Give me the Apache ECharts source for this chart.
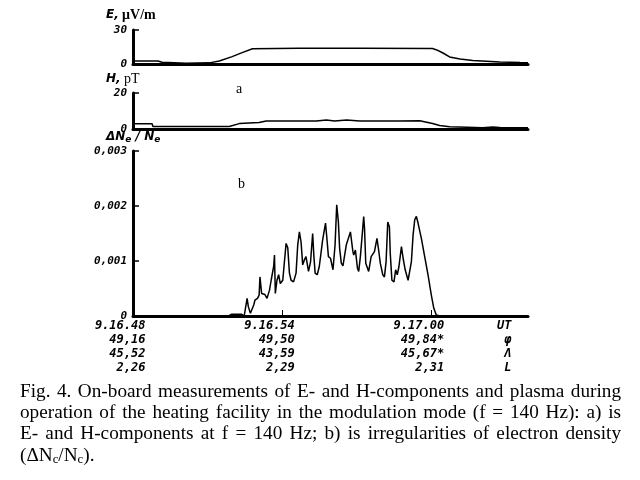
<!DOCTYPE html>
<html><head><meta charset="utf-8">
<script src="https://cdn.jsdelivr.net/npm/echarts@6/dist/echarts.min.js"></script>
<style>html,body{margin:0;padding:0;background:#fff}#c{width:640px;height:480px}</style>
</head><body><div id="c"></div>
<script>
// ---- data (time in seconds after 9.16.48 UT) ----
const eTime  = [0, 60, 70, 128, 184, 208, 239, 263, 288, 400, 550, 722, 732, 747, 763, 788, 819, 884, 933, 952];
const eValue = [2.6, 2.6, 1.5, 0.6, 1.0, 2.6, 6.5, 10, 13.5, 13.8, 13.8, 13.6, 12.4, 9.7, 6.2, 4.4, 3.1, 1.8, 1.3, 1.2];

const hTime  = [0, 46, 48, 232, 256, 304, 321, 442, 466, 486, 515, 546, 643, 691, 722, 739, 763, 805, 843, 867, 884, 952];
const hValue = [2.9, 2.9, 1.4, 1.4, 3.0, 3.6, 4.4, 4.5, 5.0, 4.5, 5.0, 4.5, 4.4, 4.6, 3.0, 2.0, 1.3, 1.0, 0.7, 1.1, 0.8, 0.7];

// dNe/Ne in units of 1e-3
const nTime  = [0,230,237,262,268,270,275,278,283,291,294,298,300,304,306,310,318,323,329,333,339,341,343,347,351,355,361,365,369,373,377,381,387,393,397,401,405,409,413,417,423,428,433,436,439,444,449,457,464,468,471,476,482,487,491,495,498,502,506,514,524,530,532,536,541,544,548,553,556,558,561,564,568,574,578,582,588,592,596,602,606,610,614,618,620,624,629,633,637,641,647,651,656,663,667,671,675,679,683,687,695,703,711,719,725,731,739,952];
const nValue = [0,0,0.03,0.03,0,0.03,0.32,0.17,0.05,0.20,0.29,0.26,0.32,0.38,0.71,0.41,0.39,0.32,0.47,0.65,0.90,1.11,0.41,0.65,0.75,0.59,0.65,0.99,1.32,1.24,0.78,0.65,0.62,0.78,1.29,1.53,1.35,0.93,1.02,1.08,0.81,0.99,1.50,1.08,0.78,0.75,0.90,1.38,1.69,1.35,1.08,1.05,0.84,1.29,2.02,1.71,1.23,0.96,0.91,1.29,1.53,1.17,1.11,1.20,0.87,0.81,1.08,1.53,1.81,1.59,0.96,0.93,0.81,1.08,1.05,1.17,1.41,1.20,0.96,0.75,0.71,0.99,1.71,1.62,1.14,0.65,0.62,0.84,0.75,0.90,1.26,1.05,0.84,0.65,0.62,0.99,1.47,1.75,1.81,1.69,1.41,1.08,0.75,0.38,0.14,0.02,0,0];

const xTicks      = [0, 360, 720];
const utLabels    = ['9.16.48', '9.16.54', '9.17.00'];
const phiLabels   = ['49,16', '49,50', '49,84*'];
const lamLabels   = ['45,52', '43,59', '45,67*'];
const lLabels     = ['2,26', '2,29', '2,31'];
const rowNames    = ['UT', 'φ', 'Λ', 'L'];
const eTickLabels = ['0', '30'];
const hTickLabels = ['0', '20'];
const nTickLabels = ['0', '0,001', '0,002', '0,003'];

const captionLines = [
  'Fig. 4. On-board measurements of E- and H-components and plasma during',
  'operation of the heating facility in the modulation mode (f = 140 Hz): a) is',
  'E- and H-components at f = 140 Hz; b) is irregularities of electron density'
];

// ---- build ----
const zip = (a, b) => a.map((v, i) => [v, b[i]]);
const XMAX = 952;
const LBL_SHIFT = 30;      // labels right-aligned slightly right of tick
const ROWNAME_POS = 912;
const labelVals = xTicks.map(t => t + LBL_SHIFT).concat([ROWNAME_POS]);
const labelTexts = xTicks.map((t, i) => [utLabels[i], phiLabels[i], lamLabels[i], lLabels[i]].join('\n'))
  .concat([rowNames.join('\n')]);

const tickFont = {fontFamily: 'DejaVu Sans Mono', fontStyle: 'italic', fontWeight: 'bold', color: '#000'};
const axisLineStyle = {show: true, lineStyle: {color: '#000', width: 3}};

function xAx(i, bottom) {
  const ax = {
    type: 'value', gridIndex: i, min: 0, max: XMAX,
    axisLine: axisLineStyle, splitLine: {show: false},
    axisTick: {show: false}, axisLabel: {show: false}
  };
  if (bottom) {
    ax.axisTick = {show: true, inside: true, length: 6, customValues: [360, 720], lineStyle: {color: '#000', width: 1}};
    ax.axisLabel = Object.assign({
      show: true, customValues: labelVals, fontSize: 12, lineHeight: 14, margin: 3, align: 'right',
      formatter: v => { let k = 0, d = 1e9; labelVals.forEach((lv, j) => { if (Math.abs(lv - v) < d) { d = Math.abs(lv - v); k = j; } }); return labelTexts[k]; }
    }, tickFont);
  }
  return ax;
}
function yAx(i, max, interval, labels) {
  return {
    type: 'value', gridIndex: i, min: 0, max: max, interval: interval,
    axisLine: axisLineStyle, splitLine: {show: false},
    axisTick: {show: true, inside: true, length: 6, lineStyle: {color: '#000', width: 1.5}},
    axisLabel: Object.assign({fontSize: 11, margin: 6, formatter: v => labels[Math.round(v / interval)]}, tickFont)
  };
}
const lineSeries = (i, t, v) => ({
  type: 'line', xAxisIndex: i, yAxisIndex: i, data: zip(t, v), showSymbol: false,
  lineStyle: {color: '#000', width: 1.5}, animation: false, silent: true
});

const serif = 'Liberation Serif';
const italicB = {fontFamily: 'DejaVu Sans', fontStyle: 'italic', fontWeight: 'bold', fontSize: 12};
const graphics = [
  {type: 'text', left: 106, top: 8, style: {
    text: '{i|E,} {n|μV/m}', rich: {i: italicB, n: {fontFamily: serif, fontWeight: 'bold', fontSize: 14}}, fill: '#000'}},
  {type: 'text', left: 106, top: 72, style: {
    text: '{i|H,} {n|pT}', rich: {i: italicB, n: {fontFamily: serif, fontSize: 14}}, fill: '#000'}},
  {type: 'text', left: 106, top: 131, style: {
    text: '{i|ΔN}{s|e}{i| / N}{s|e}', rich: {i: italicB, s: {fontFamily: 'DejaVu Sans', fontStyle: 'italic', fontWeight: 'bold', fontSize: 9, padding: [5, 0, 0, 0]}}, fill: '#000'}},
  {type: 'text', left: 236, top: 82, style: {text: 'a', font: '14px "Liberation Serif"', fill: '#000'}},
  {type: 'text', left: 238, top: 177, style: {text: 'b', font: '14px "Liberation Serif"', fill: '#000'}}
];

// justified caption, glyphs stretched horizontally to the printed width
const CAP_FONT = '18px "Liberation Serif"';
const CAP_LEFT = 20, CAP_RIGHT = 621, CAP_TOP = 383, CAP_LH = 21, CAP_GAP = 6.5;
const mctx = document.createElement('canvas').getContext('2d');
mctx.font = CAP_FONT;
const w0 = captionLines[0].split(' ').map(w => mctx.measureText(w).width);
const SX = (CAP_RIGHT - CAP_LEFT - (w0.length - 1) * CAP_GAP) / w0.reduce((a, b) => a + b, 0);
captionLines.forEach((s, li) => {
  const words = s.split(' ');
  const widths = words.map(w => mctx.measureText(w).width * SX);
  const total = widths.reduce((a, b) => a + b, 0);
  const gap = (CAP_RIGHT - CAP_LEFT - total) / (words.length - 1);
  let x = CAP_LEFT;
  words.forEach((w, k) => {
    graphics.push({type: 'text', x: x, y: CAP_TOP + li * CAP_LH, scaleX: SX,
      style: {text: w, font: CAP_FONT, fill: '#000', align: 'left', verticalAlign: 'top'}});
    x += widths[k] + gap;
  });
});
graphics.push({type: 'text', x: CAP_LEFT, y: CAP_TOP + 3 * CAP_LH, scaleX: SX, style: {
  text: '(ΔN{s|c}/N{s|c}).', font: CAP_FONT, fill: '#000', align: 'left', verticalAlign: 'top',
  rich: {s: {fontFamily: serif, fontSize: 12, padding: [8, 0, 0, 0]}}}});

const chart = echarts.init(document.getElementById('c'), null, {renderer: 'canvas'});
chart.setOption({
  backgroundColor: '#fff',
  animation: false,
  grid: [
    {left: 133, right: 112, top: 30, height: 34},
    {left: 133, right: 112, top: 93, height: 36},
    {left: 133, right: 112, top: 151, height: 165}
  ],
  xAxis: [xAx(0, false), xAx(1, false), xAx(2, true)],
  yAxis: [yAx(0, 30, 30, eTickLabels), yAx(1, 20, 20, hTickLabels), yAx(2, 3, 1, nTickLabels)],
  series: [lineSeries(0, eTime, eValue), lineSeries(1, hTime, hValue), lineSeries(2, nTime, nValue)],
  graphic: graphics
});
</script></body></html>
